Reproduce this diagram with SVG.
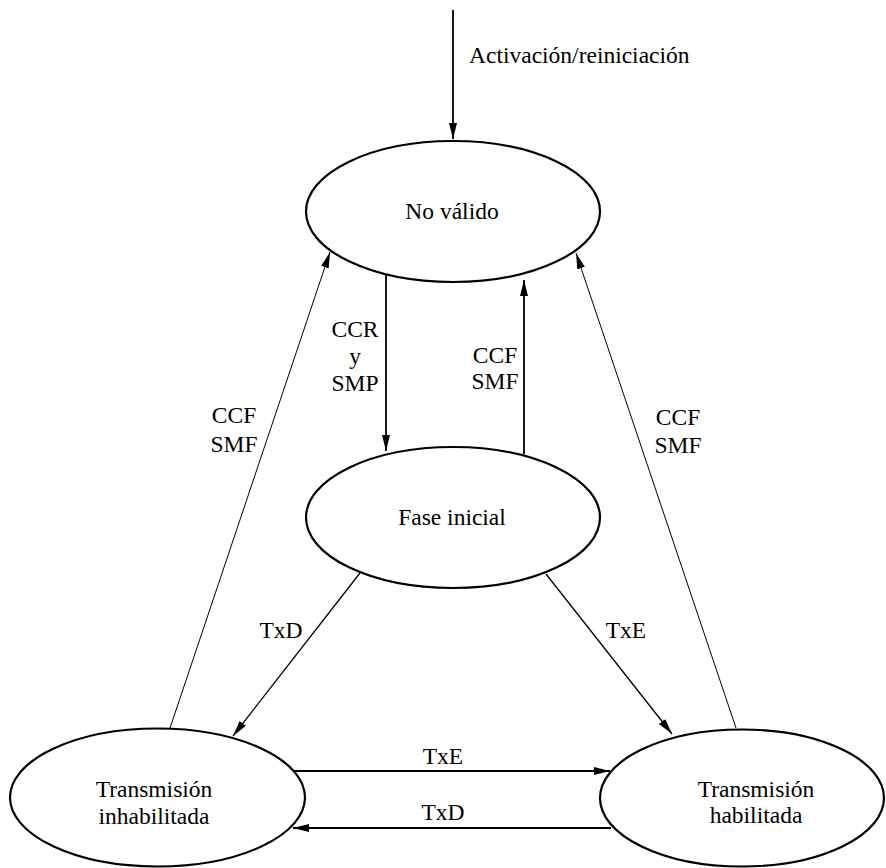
<svg xmlns="http://www.w3.org/2000/svg" width="886" height="868" viewBox="0 0 886 868" font-family="Liberation Serif, Times New Roman, DejaVu Serif, serif" font-size="23.5">
<defs>
<marker id="ah" viewBox="0 0 16 8" refX="16" refY="4" markerWidth="16" markerHeight="8" markerUnits="userSpaceOnUse" orient="auto">
<path d="M0,0 L16,4 L0,8 Z" fill="#000"/>
</marker>
<style>
.node ellipse{fill:#fff;stroke:#000;stroke-width:2.2}
text{fill:#000;text-anchor:middle}
.c{fill:none;stroke:#000;marker-end:url(#ah)}
.thick{stroke-width:1.8}
.thin{stroke-width:1}
.mid{stroke-width:1.3}
</style>
</defs>
<rect width="886" height="868" fill="#fff"/>
<g id="connectors">
<line class="c thick" x1="453" y1="10" x2="453" y2="139"/>
<line class="c thick" x1="386" y1="273" x2="386" y2="451"/>
<line class="c thick" x1="524" y1="454" x2="524" y2="280"/>
<line class="c thin" x1="170" y1="728" x2="330" y2="252"/>
<line class="c thin" x1="736" y1="728" x2="576" y2="253"/>
<line class="c mid" x1="360" y1="573" x2="233" y2="736"/>
<line class="c mid" x1="546" y1="574" x2="672" y2="734"/>
<line class="c thick" x1="293" y1="771" x2="610" y2="771"/>
<line class="c thick" x1="611" y1="828" x2="293" y2="828"/>
<text x="469" y="63" style="text-anchor:start">Activación/reiniciación</text>
<text x="355" y="337">CCR</text>
<text x="355" y="364">y</text>
<text x="355" y="391">SMP</text>
<text x="495" y="363">CCF</text>
<text x="495" y="389">SMF</text>
<text x="234" y="423">CCF</text>
<text x="234" y="452">SMF</text>
<text x="678" y="425">CCF</text>
<text x="678" y="453">SMF</text>
<text x="281" y="638">TxD</text>
<text x="626" y="638">TxE</text>
<text x="443" y="764">TxE</text>
<text x="443" y="820">TxD</text>
</g>
<g id="no-valido" class="node">
<ellipse cx="453" cy="211.5" rx="147" ry="70.5"/>
<text x="452" y="219">No válido</text>
</g>
<g id="fase-inicial" class="node">
<ellipse cx="453" cy="517.5" rx="147" ry="70.5"/>
<text x="452" y="525">Fase inicial</text>
</g>
<g id="tx-inhabilitada" class="node">
<ellipse cx="157.5" cy="797.5" rx="147.5" ry="69"/>
<text x="154" y="797">Transmisión</text>
<text x="154" y="824">inhabilitada</text>
</g>
<g id="tx-habilitada" class="node">
<ellipse cx="742" cy="798" rx="142" ry="68.5"/>
<text x="756" y="797">Transmisión</text>
<text x="756" y="823">habilitada</text>
</g>
</svg>
